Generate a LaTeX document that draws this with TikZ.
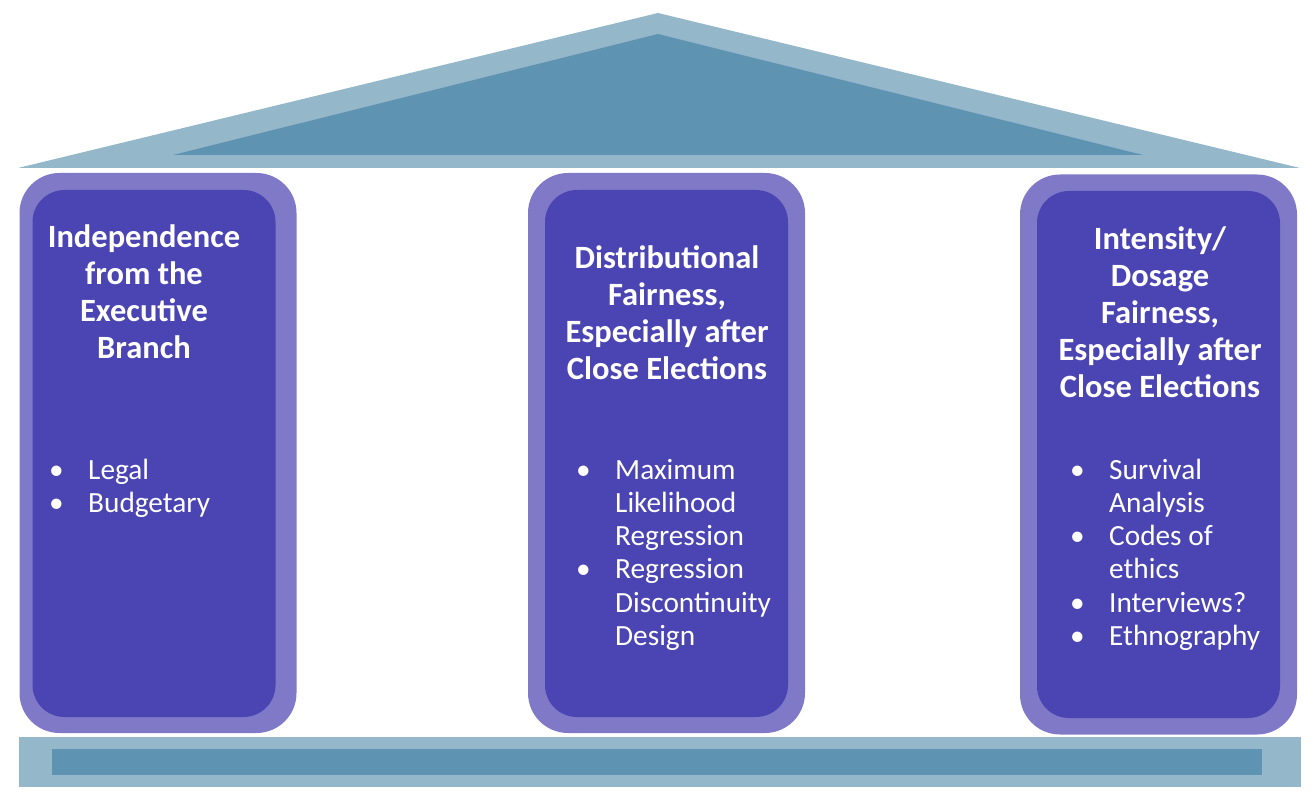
\documentclass[tikz,border=0pt]{standalone}
\usepackage{fontspec}
\setmainfont{Carlito}
\usetikzlibrary{positioning}
\definecolor{roofpale}{RGB}{148,183,202}
\definecolor{roofdeep}{RGB}{94,147,178}
\definecolor{pillarpale}{RGB}{127,121,200}
\definecolor{pillardeep}{RGB}{75,69,180}

\begin{document}
\begin{tikzpicture}[x=1pt, y=-1pt,
  shaft/.style={rectangle, rounded corners=40pt, fill=pillarpale,
    minimum width=277pt, minimum height=560pt, inner sep=0pt},
  core/.style={rectangle, rounded corners=32pt, fill=pillardeep,
    minimum width=243pt, minimum height=527pt, inner sep=0pt},
  heading/.style={anchor=base, inner sep=0pt, text=white,
    font=\fontsize{32.5}{37}\selectfont\bfseries},
  pointlist/.style={anchor=base west, inner sep=0pt, text=white,
    font=\fontsize{29.3}{33.3}\selectfont}
]
\useasboundingbox (0,0) rectangle (1315,799);

% roof
\fill[roofpale] (18,168) -- (658,13) -- (1300,168) -- cycle;
\fill[roofdeep] (173,155) -- (658,34) -- (1143,155) -- cycle;

% base
\fill[roofpale] (19,737) rectangle (1301,787);
\fill[roofdeep] (52,749) rectangle (1262,775);

% pillars
\node[shaft] (lshaft) at (158,453) {};
\node[core] (lcore) at (154,453.5) {};
\node[shaft] (mshaft) at (666.5,453) {};
\node[core] (mcore) at (666.5,453.5) {};
\node[shaft] (rshaft) at (1158.5,454.5) {};
\node[core] (rcore) at (1158.5,454.5) {};

% headings
\node[heading] (lhead) at (144,248)
  {\begin{tabular}[t]{@{}c@{}}Independence\\from the\\Executive\\Branch\end{tabular}};
\node[heading] (mhead) at (667,269)
  {\begin{tabular}[t]{@{}c@{}}Distributional\\Fairness,\\Especially after\\Close Elections\end{tabular}};
\node[heading] (rhead) at (1160,250)
  {\begin{tabular}[t]{@{}c@{}}Intensity/\\Dosage\\Fairness,\\Especially after\\Close Elections\end{tabular}};

% bullet lists
\node[pointlist] (llist) at (49,479)
  {\begin{tabular}[t]{@{}p{39pt}@{}l@{}}
    \textbullet & Legal\\
    \textbullet & Budgetary
  \end{tabular}};
\node[pointlist] (mlist) at (576,479)
  {\begin{tabular}[t]{@{}p{39pt}@{}l@{}}
    \textbullet & Maximum\\
                & Likelihood\\
                & Regression\\
    \textbullet & Regression\\
                & Discontinuity\\
                & Design
  \end{tabular}};
\node[pointlist] (rlist) at (1070,479)
  {\begin{tabular}[t]{@{}p{39pt}@{}l@{}}
    \textbullet & Survival\\
                & Analysis\\
    \textbullet & Codes of\\
                & ethics\\
    \textbullet & Interviews?\\
    \textbullet & Ethnography
  \end{tabular}};
\end{tikzpicture}
\end{document}
